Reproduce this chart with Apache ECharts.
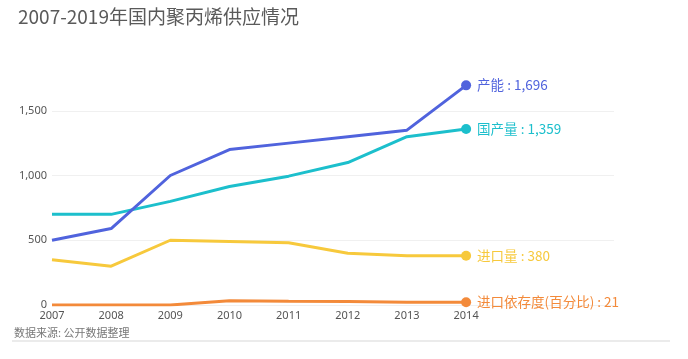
<!DOCTYPE html>
<html><head><meta charset="utf-8">
<script src="https://cdn.jsdelivr.net/npm/echarts@6/dist/echarts.min.js"></script>
<style>html,body{margin:0;padding:0;background:#fff}#c{width:688px;height:359px}</style>
</head><body><div id="c"></div>
<script>
const years = [2007, 2008, 2009, 2010, 2011, 2012, 2013, 2014];
const capacity = [500, 590, 1000, 1200, 1250, 1300, 1350, 1696];
const production = [700, 700, 800, 915, 995, 1100, 1300, 1359];
const imports = [350, 300, 500, 490, 480, 400, 380, 380];
const dependency = [0, 0, 0, 33, 28, 27, 22, 21];
const seriesNames = ['产能', '国产量', '进口量', '进口依存度(百分比)'];
const seriesColors = ['#5063dd', '#1cbfcc', '#f7c93c', '#f38a3a'];
const yTicks = [0, 500, 1000, 1500];

const allData = [capacity, production, imports, dependency];
const chart = echarts.init(document.getElementById('c'));
const fmt = v => v.toLocaleString('en-US');
chart.setOption({
  animation: false,
  title: {
    text: '2007-2019年国内聚丙烯供应情况',
    left: 13, top: 2,
    textStyle: { fontSize: 19, fontWeight: 'normal', color: '#5a5a5a', fontFamily: 'Noto Sans CJK SC' }
  },
  graphic: [
    { type: 'text', left: 14, top: 327, style: { text: '数据来源: 公开数据整理', fontSize: 11, fill: '#777', fontFamily: 'Noto Sans CJK SC' } },
    { type: 'line', shape: { x1: 12, y1: 341, x2: 670, y2: 341 }, style: { stroke: '#ebebeb', lineWidth: 2 } }
  ],
  grid: { left: 52, right: 74, top: 46, bottom: 54 },
  xAxis: {
    type: 'value', min: 2007, max: 2016.5, interval: 1,
    axisLine: { show: false }, axisTick: { show: false }, splitLine: { show: false },
    axisLabel: {
      margin: 5, fontSize: 11, color: '#555', fontFamily: 'Noto Sans',
      showMaxLabel: false,
      formatter: v => years.indexOf(v) >= 0 ? String(v) : ''
    }
  },
  yAxis: {
    type: 'value', min: yTicks[0], max: 2000, interval: 500,
    axisLine: { show: false }, axisTick: { show: false },
    splitLine: { show: true, showMaxLine: false, lineStyle: { color: '#f0f0f0', width: 1 } },
    axisLabel: {
      margin: 5, fontSize: 11, color: '#555', fontFamily: 'Noto Sans',
      showMaxLabel: false,
      formatter: v => yTicks.indexOf(v) >= 0 ? fmt(v) : ''
    }
  },
  series: allData.map((arr, i) => ({
    name: seriesNames[i],
    type: 'line',
    data: arr.map((v, j) => ({
      value: [years[j], v],
      symbol: j === arr.length - 1 ? 'circle' : 'none',
      symbolSize: 10,
      label: j === arr.length - 1 ? {
        show: true, position: 'right', distance: 6,
        formatter: seriesNames[i] + ' : ' + fmt(v),
        color: seriesColors[i], fontSize: 13.5, fontFamily: 'Noto Sans CJK SC'
      } : { show: false }
    })),
    showAllSymbol: true,
    lineStyle: { width: 3, color: seriesColors[i] },
    itemStyle: { color: seriesColors[i] },
    z: 10 - i
  }))
});
</script></body></html>
